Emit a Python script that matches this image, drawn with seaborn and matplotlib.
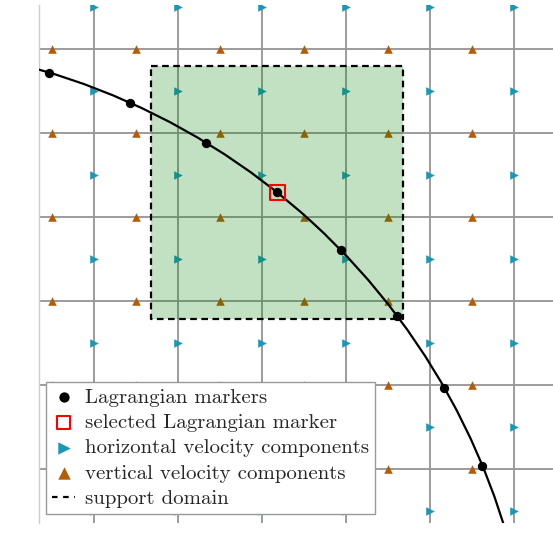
import numpy as np
import pandas as pd
import seaborn as sns
import matplotlib.pyplot as plt
from matplotlib.patches import Arc, Rectangle

#%% data (grid spacing h = 1)
# eulerian grid lines
grid_x = [1, 2, 3, 4, 5, 6]
grid_y = [1, 2, 3, 4, 5, 6]
# staggered velocity locations
u_y = [0.5, 1.5, 2.5, 3.5, 4.5, 5.5, 6.5]   # horizontal comps sit on vertical lines
v_x = [0.5, 1.5, 2.5, 3.5, 4.5, 5.5]        # vertical comps sit on horizontal lines

# lagrangian markers along the interface
lag_x = [0.465, 1.426, 2.335, 3.178, 3.937, 4.604, 5.169, 5.620]
lag_y = [5.717, 5.358, 4.881, 4.292, 3.604, 2.825, 1.965, 1.043]
sel_idx = 3

# interface is a circular arc
arc_center = (-1.893, -2.063)
arc_radius = 8.13

# support domain is 3h x 3h around the selected marker
support_size = 3.0

xlim = (0.35, 6.46)
ylim = (0.36, 6.52)

blue = '#1898b6'
brown = '#b45c06'

#%% building point tables
u_pts = pd.DataFrame([(x, y) for x in grid_x for y in u_y], columns=['x', 'y'])
v_pts = pd.DataFrame([(x, y) for x in v_x for y in grid_y], columns=['x', 'y'])
lag = pd.DataFrame({'x': lag_x, 'y': lag_y})

sns.set_style('white')
plt.rcParams['font.family'] = ['cmr10', 'DejaVu Serif']
plt.rcParams['mathtext.fontset'] = 'cm'
plt.rcParams['axes.formatter.use_mathtext'] = True

fig = plt.figure(figsize=(5.53, 5.59), dpi=100)
ax = fig.add_axes([0.0714, 0.0644, 0.9286, 0.9266])

# grid
ax.set_xticks(grid_x)
ax.set_yticks(grid_y)
ax.tick_params(length=0, labelbottom=False, labelleft=False)
ax.grid(True, color='0.58', lw=1.3)
ax.set_axisbelow(True)

sns.scatterplot(data=u_pts, x='x', y='y', marker='>', color=blue, s=38,
                linewidth=0, zorder=2, label='horizontal velocity components', ax=ax)
sns.scatterplot(data=v_pts, x='x', y='y', marker='^', color=brown, s=38,
                linewidth=0, zorder=2, label='vertical velocity components', ax=ax)

# support domain
sx, sy = lag_x[sel_idx], lag_y[sel_idx]
half = support_size / 2
ax.add_patch(Rectangle((sx - half, sy - half), support_size, support_size,
                       facecolor='green', alpha=0.24, edgecolor='none', zorder=3))
box_x = [sx - half, sx + half, sx + half, sx - half, sx - half]
box_y = [sy + half, sy + half, sy - half, sy - half, sy + half]
ax.plot(box_x, box_y, color='black', lw=1.6, ls=(0, (3, 2)), zorder=6,
        label='support domain')

# interface
ax.add_patch(Arc(arc_center, 2 * arc_radius, 2 * arc_radius, theta1=5, theta2=90,
                 color='black', lw=1.6, zorder=4))
sns.scatterplot(data=lag, x='x', y='y', color='black', s=45, linewidth=0,
                zorder=5, label='Lagrangian markers', ax=ax)
ax.scatter([sx], [sy], marker='s', s=120, facecolors='none', edgecolors='red',
           linewidths=1.5, zorder=7, label='selected Lagrangian marker')

ax.set_xlim(xlim)
ax.set_ylim(ylim)

for side in ['top', 'right', 'bottom']:
    ax.spines[side].set_visible(False)
ax.spines['left'].set_color('0.8')
ax.spines['left'].set_linewidth(1.0)

ax.set_xlabel('$x$', fontsize=18)
ax.set_ylabel('$y$', fontsize=18, rotation=0)
ax.xaxis.set_label_coords(0.502, -0.043)
ax.xaxis.label.set_va('center')
ax.yaxis.set_label_coords(-0.044, 0.527)
ax.yaxis.label.set_va('center')
ax.yaxis.label.set_ha('center')

# legend in the reference order
order = ['Lagrangian markers', 'selected Lagrangian marker',
         'horizontal velocity components', 'vertical velocity components',
         'support domain']
handles, labels = ax.get_legend_handles_labels()
hmap = dict(zip(labels, handles))
leg = ax.legend([hmap[l] for l in order], order, fontsize=15, loc='upper left',
                bbox_to_anchor=(0.0127, 0.272), borderaxespad=0, fancybox=False,
                framealpha=1, edgecolor='0.6', handlelength=1.1, handletextpad=0.45,
                labelspacing=0.32, borderpad=0.3)
leg.set_zorder(10)
# legend symbol sizes
for h, sz in zip(leg.legend_handles[:4], [55, 85, 80, 80]):
    h.set_sizes([sz])
leg.legend_handles[4].set_linestyle((0, (2.5, 2.5)))

fig.savefig('out.png', dpi=100)
